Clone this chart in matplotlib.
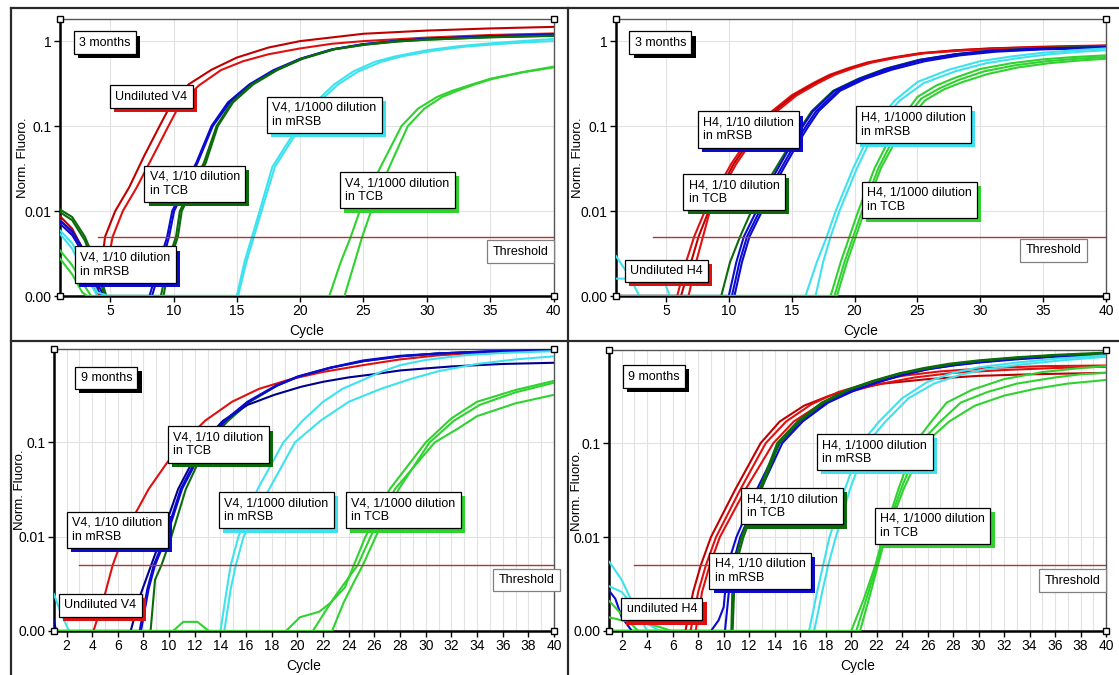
import matplotlib
matplotlib.use("Agg")
import matplotlib.pyplot as plt
import matplotlib.patheffects as pe
import numpy as np
from matplotlib.transforms import offset_copy
from matplotlib.lines import Line2D
from matplotlib.ticker import FixedLocator, FixedFormatter, NullLocator, MultipleLocator

plt.rcParams['font.family'] = ['Liberation Sans', 'DejaVu Sans']

W, H, DPI = 1119, 675, 100
FLOOR = 0.001        # the "0.00" level of the log axis
THRESHOLD = 0.005

RED = '#e01010'
DKRED = '#c00000'
BLUE = '#0a0ad0'
NAVY = '#00008c'
DKGREEN = '#0b6b0b'
CYAN = '#3ee2ee'
GREEN = '#2fd22f'

# ---------------------------------------------------------------- 3 months, V4
V4_3M_UNDILUTED = [
    [(1, .0088), (2, .0062), (3, .0032), (3.8, .0013), (4.0, 0), (4.6, .005), (5.4, .01), (6.5, .019),
     (7.7, .045), (8.9, .1), (9.8, .18), (11.2, .31), (13, .46), (15, .64), (17.5, .84), (20, 1.0),
     (25, 1.22), (30, 1.33), (35, 1.41), (40, 1.47)],
    [(1, .008), (2, .0055), (3, .0028), (3.9, .0011), (4.3, 0), (5.2, .005), (6.0, .01), (7.1, .019),
     (8.4, .045), (9.6, .1), (10.5, .18), (12, .3), (13.75, .456), (15.5, .58), (17.5, .7), (20, .82),
     (22.5, .93), (25, 1.0), (30, 1.1), (35, 1.18), (40, 1.23)],
]
V4_3M_MRSB_10 = [
    [(1, .0078), (2, .0058), (3, .0033), (4, .0014), (4.5, 0), (8.1, 0), (8.9, .0025), (9.5, .005),
     (9.9, .01), (11.8, .037), (13.0, .1), (14.3, .19), (16, .31), (17.9, .456), (20, .62), (22.5, .8),
     (25, .92), (27.5, 1.0), (30, 1.06), (35, 1.14), (40, 1.2)],
    [(1, .0072), (2, .0052), (3, .003), (4, .0012), (4.3, 0), (8.3, 0), (9.1, .0025), (9.65, .005),
     (10.05, .01), (11.9, .037), (13.1, .1), (14.45, .19), (16.15, .31), (18.05, .456), (20.1, .62),
     (22.6, .8), (25, .92), (27.5, 1.0), (30, 1.06), (35, 1.14), (40, 1.19)],
]
V4_3M_TCB_10 = [
    [(1, .0105), (2, .0085), (3, .005), (4, .0022), (4.7, 0), (9.0, 0), (9.7, .003), (10.2, .005),
     (10.5, .01), (12.4, .037), (13.4, .1), (14.6, .19), (16.2, .31), (18.1, .456), (20.1, .62),
     (22.6, .8), (25.1, .91), (27.6, .99), (30, 1.04), (35, 1.11), (40, 1.16)],
    [(1, .0098), (2, .0078), (3, .0045), (4, .0018), (4.6, 0), (9.2, 0), (9.85, .003), (10.35, .005),
     (10.65, .01), (12.55, .037), (13.5, .1), (14.7, .19), (16.3, .31), (18.2, .456), (20.2, .62),
     (22.7, .8), (25.2, .91), (27.7, .99), (30, 1.04), (35, 1.11), (40, 1.15)],
]
V4_3M_MRSB_1000 = [
    [(1, .006), (2, .0042), (3, .0022), (4.0, .0011), (4.9, 0), (15.0, 0), (15.6, .0025), (16.2, .005),
     (16.8, .01), (17.8, .033), (19.85, .1), (21.2, .19), (22.7, .31), (24.2, .44), (25.9, .57),
     (27.5, .66), (30, .78), (32.5, .87), (35, .94), (37.5, 1.0), (40, 1.06)],
    [(1, .0055), (2, .0036), (3, .0018), (4.0, .001), (4.7, 0), (15.1, 0), (15.75, .0025), (16.35, .005),
     (16.95, .01), (18.0, .033), (20.05, .1), (21.45, .19), (23.0, .31), (24.6, .44), (26.4, .57),
     (28.0, .66), (30.5, .77), (33, .86), (35.5, .92), (38, .97), (40, 1.0)],
]
V4_3M_TCB_1000 = [
    [(1, .0035), (2, .0023), (3, .0013), (3.5, 0), (22.3, 0), (23.2, .0025), (24.0, .005), (24.7, .01),
     (26.3, .032), (28.0, .1), (29.3, .16), (30.8, .22), (32, .26), (33.6, .31), (35, .36), (37.5, .43),
     (40, .5)],
    [(1, .0028), (2, .0018), (2.8, .0011), (3.2, 0), (23.5, 0), (24.3, .0025), (24.9, .005), (25.6, .01),
     (27.0, .032), (28.5, .1), (29.8, .16), (31.2, .22), (32.4, .26), (33.8, .31), (35.2, .36),
     (37.6, .43), (40, .49)],
]

# ---------------------------------------------------------------- 3 months, H4
H4_3M_UNDILUTED = [
    [(1, 0), (5.9, 0), (6.6, .0025), (7.25, .005), (8.1, .01), (10.2, .036), (11.8, .08), (13.4, .148),
     (15, .23), (16.7, .32), (18, .4), (19.5, .48), (21, .56), (23, .64), (25.2, .72), (28, .78),
     (30.8, .82), (35, .86), (40, .89)],
    [(1, 0), (6.2, 0), (7.0, .0025), (7.6, .005), (8.4, .01), (10.4, .036), (12.0, .08), (13.6, .148),
     (15.2, .23), (16.9, .32), (18.2, .4), (19.7, .48), (21.2, .56), (23.2, .64), (25.4, .72), (28.2, .78),
     (31, .82), (35, .85), (40, .88)],
    [(1, 0), (6.8, 0), (7.4, .0025), (7.95, .005), (8.5, .01), (10.6, .036), (12.2, .08), (13.8, .148),
     (15.4, .23), (17.1, .32), (18.4, .4), (19.9, .48), (21.4, .56), (23.4, .64), (25.6, .72), (28.4, .77),
     (31.2, .81), (35, .84), (40, .87)],
]
H4_3M_MRSB_10 = [
    [(1, 0), (10.0, 0), (10.6, .0025), (11.2, .005), (12.2, .01), (13.7, .028), (15.1, .065), (15.9, .1),
     (16.7, .15), (18.4, .26), (20.4, .36), (22.5, .47), (25.2, .6), (28, .7), (30.8, .77), (35, .82),
     (40, .85)],
    [(1, 0), (10.25, 0), (10.85, .0025), (11.45, .005), (12.45, .01), (13.95, .028), (15.35, .065),
     (16.15, .1), (16.95, .15), (18.65, .26), (20.65, .36), (22.75, .47), (25.4, .6), (28.2, .7),
     (31, .76), (35, .81), (40, .84)],
    [(1, 0), (10.45, 0), (11.05, .0025), (11.65, .005), (12.65, .01), (14.15, .028), (15.55, .065),
     (16.35, .1), (17.15, .15), (18.85, .26), (20.85, .36), (22.95, .46), (25.6, .58), (28.4, .68),
     (31.2, .75), (35, .8), (40, .83)],
]
H4_3M_TCB_10 = [
    [(1, 0), (9.4, 0), (10.1, .0025), (10.9, .005), (11.8, .01), (13.5, .028), (15.0, .065), (15.8, .1),
     (16.6, .15), (18.3, .26), (20.3, .36), (22.4, .47), (25.1, .6), (28, .7), (30.7, .77), (35, .83),
     (40, .86)],
]
H4_3M_MRSB_1000 = [
    [(1, .003), (2, .0018), (2.9, 0), (16.1, 0), (17.0, .0025), (17.8, .005), (18.5, .01), (19.9, .032),
     (21.5, .1), (23.2, .2), (25, .33), (27.5, .46), (30, .58), (32.5, .66), (35, .73), (37.5, .78),
     (40, .82)],
    [(1, .0016), (4.8, .0016), (5.3, 0), (16.9, 0), (17.5, .0025), (18.1, .005), (18.8, .01), (20.2, .032),
     (21.8, .1), (23.6, .2), (25.5, .32), (28, .44), (30.5, .55), (33, .63), (35.5, .7), (38, .75),
     (40, .78)],
]
H4_3M_TCB_1000 = [
    [(1, 0), (18.1, 0), (18.9, .0025), (19.6, .005), (20.3, .01), (21.6, .032), (23.3, .1), (25, .22),
     (26.5, .3), (28, .37), (30, .47), (32.5, .55), (35, .61), (37.5, .65), (40, .68)],
    [(1, 0), (18.4, 0), (19.2, .0025), (19.9, .005), (20.6, .01), (21.9, .032), (23.6, .1), (25.3, .21),
     (26.8, .28), (28.3, .35), (30.3, .44), (32.8, .52), (35.3, .58), (37.7, .62), (40, .65)],
    [(1, 0), (18.6, 0), (19.4, .0025), (20.1, .005), (20.8, .01), (22.1, .032), (23.9, .1), (25.6, .2),
     (27.1, .27), (28.6, .33), (30.6, .41), (33, .49), (35.5, .55), (37.8, .59), (40, .62)],
]

# ---------------------------------------------------------------- 9 months, V4
V4_9M_UNDILUTED = [
    [(1, 0), (4.1, 0), (4.9, .0022), (5.6, .005), (6.4, .01), (7.3, .017), (8.4, .032), (9.8, .06),
     (11.1, .1), (12.8, .17), (14.9, .27), (17, .37), (19.5, .47), (22, .56), (25.1, .66), (28, .76),
     (31, .84), (34, .89), (37, .93), (40, .95)],
]
V4_9M_MRSB_10 = [
    [(1, .0013), (1.2, 0), (7.0, 0), (7.8, .0025), (8.6, .005), (9.4, .01), (10.7, .032), (12.6, .1),
     (14.2, .17), (16.1, .25), (18.2, .32), (20.3, .39), (22, .44), (24, .49), (26, .53), (28, .58),
     (30, .61), (32, .64), (34, .66), (36, .68), (38, .69), (40, .70)],
    [(1, 0), (7.7, 0), (8.3, .0028), (8.8, .005), (9.7, .01), (10.9, .032), (12.8, .1), (14.3, .17),
     (16.1, .27), (18.3, .4), (20, .5), (22.5, .62), (25.1, .74), (28, .83), (31, .88), (35, .93),
     (40, .96)],
    [(1, 0), (7.8, 0), (8.4, .0028), (8.9, .005), (9.8, .01), (11.0, .032), (12.9, .1), (14.4, .17),
     (16.2, .27), (18.4, .4), (20.1, .5), (22.6, .62), (25.2, .73), (28.1, .82), (31.1, .88), (35, .92),
     (40, .95)],
]
V4_9M_TCB_10 = [
    [(1, 0), (8.55, 0), (8.9, .0035), (9.4, .005), (10.1, .0093), (11.3, .032), (13.0, .1), (14.6, .17),
     (16.3, .27), (18.4, .4), (20.1, .5), (22.6, .62), (25.2, .73), (28, .82), (31, .88), (35, .92),
     (40, .95)],
]
V4_9M_MRSB_1000 = [
    [(1, .0025), (1.6, .0015), (2.2, 0), (14.0, 0), (14.5, .0028), (14.8, .005), (15.4, .01),
     (16.9, .032), (18.9, .1), (20.4, .17), (22, .27), (23.5, .37), (25.1, .46), (26.5, .56), (28, .66),
     (30, .75), (33, .84), (36, .89), (40, .93)],
    [(1, 0), (14.3, 0), (14.8, .0028), (15.2, .005), (15.8, .01), (17.8, .032), (19.8, .1), (21.8, .17),
     (24, .27), (26.5, .37), (28.8, .47), (31, .57), (34, .68), (37, .76), (40, .82)],
]
V4_9M_TCB_1000 = [
    [(1, 0), (10.3, 0), (11.1, .00125), (12.2, .00125), (13.1, 0), (19.1, 0), (20.2, .0014),
     (21.7, .0016), (22.6, .002), (23.7, .0029), (24.4, .005), (25.3, .01), (27.2, .032), (30.0, .1),
     (32, .18), (34, .27), (37, .36), (40, .45)],
    [(1, 0), (21.2, 0), (22.8, .0022), (24.0, .0037), (24.7, .005), (25.7, .01), (27.6, .032),
     (30.7, .1), (32.5, .14), (34, .19), (37, .26), (40, .32)],
    [(1, 0), (22.7, 0), (23.6, .002), (24.5, .0035), (25.1, .005), (26.1, .01), (27.9, .032),
     (30.3, .1), (32.2, .17), (34.2, .25), (37, .34), (40, .43)],
]

# ---------------------------------------------------------------- 9 months, H4
H4_9M_UNDILUTED = [
    [(1, 0), (7.0, 0), (7.6, .0026), (8.2, .005), (9.0, .01), (10.9, .032), (12.9, .1), (14.4, .17),
     (16.3, .25), (18.3, .32), (20.5, .38), (22.5, .43), (26, .48), (30, .52), (34, .54), (40, .56)],
    [(1, 0), (7.4, 0), (8.0, .0026), (8.6, .005), (9.4, .01), (11.3, .032), (13.3, .1), (14.9, .17),
     (16.9, .26), (19, .35), (21.5, .44), (24, .52), (27, .58), (30.8, .63), (35, .66), (40, .67)],
    [(1, 0), (7.8, 0), (8.3, .0026), (8.9, .005), (9.7, .01), (11.7, .032), (13.9, .1), (15.5, .17),
     (17.6, .26), (19.5, .34), (22, .42), (25, .5), (28, .56), (32, .6), (36, .63), (40, .65)],
]
H4_9M_MRSB_10 = [
    [(1, .0027), (1.5, .0022), (2, .0014), (2.8, 0), (9.0, 0), (9.6, .0013), (10.0, .0018), (10.3, .005),
     (11.0, .01), (12.6, .032), (14.4, .1), (16, .17), (18, .27), (20, .36), (22, .44), (24, .53),
     (26, .61), (28, .67), (30, .72), (33, .78), (36, .83), (40, .87)],
    [(1, 0), (10.1, 0), (10.5, .0035), (10.7, .005), (11.3, .01), (12.9, .032), (14.6, .1), (16.2, .17),
     (18.2, .27), (20.2, .36), (22.2, .45), (24.2, .54), (26.2, .62), (28.2, .68), (30.2, .73), (33, .79),
     (36, .84), (40, .88)],
]
H4_9M_TCB_10 = [
    [(1, 0), (10.6, 0), (10.7, .0035), (10.8, .005), (11.4, .01), (12.8, .032), (14.2, .1), (15.8, .17),
     (17.7, .27), (19.7, .37), (21.7, .46), (23.7, .55), (25.7, .63), (27.7, .7), (30, .76), (33, .82),
     (36, .87), (40, .92)],
    [(1, 0), (10.7, 0), (10.85, .0035), (10.95, .005), (11.55, .01), (12.95, .032), (14.35, .1),
     (15.95, .17), (17.85, .27), (19.85, .37), (21.85, .46), (23.85, .55), (25.85, .62), (27.85, .69),
     (30.1, .75), (33, .81), (36, .86), (40, .9)],
]
H4_9M_MRSB_1000 = [
    [(1, .0055), (2, .0035), (3, .0018), (4, 0), (16.7, 0), (17.3, .0025), (17.8, .005), (18.3, .01),
     (19.5, .032), (20.8, .1), (22.2, .17), (24, .3), (26, .45), (28, .56), (30, .64), (33, .72),
     (36, .79), (40, .86)],
    [(1, .003), (2, .0026), (3, .0018), (4, .0012), (5, 0), (17.1, 0), (17.7, .0025), (18.2, .005),
     (18.8, .01), (19.9, .032), (21.25, .1), (22.7, .17), (24.5, .3), (26.5, .43), (28.5, .53),
     (30.5, .61), (33.5, .69), (36.5, .76), (40, .83)],
]
H4_9M_TCB_1000 = [
    [(1, .0021), (2, .0015), (3.3, 0), (20.0, 0), (21.0, .0022), (21.9, .005), (22.5, .01), (23.7, .032),
     (25.0, .1), (26.3, .17), (27.5, .27), (29.5, .37), (32, .48), (35, .57), (38, .63), (40, .66)],
    [(1, .0014), (2, .0013), (4, .0012), (5, .0011), (5.9, 0), (20.4, 0), (21.2, .0022), (22.0, .005),
     (22.6, .01), (23.9, .032), (25.4, .1), (27, .17), (28.6, .27), (30.7, .35), (33, .43), (36, .5),
     (38, .54), (40, .56)],
    [(1, 0), (20.7, 0), (21.4, .0022), (22.1, .005), (22.7, .01), (24.1, .032), (25.8, .1), (27.7, .17),
     (29.7, .25), (32, .32), (34.5, .38), (37, .43), (40, .47)],
]

PERIODS = ['3 months', '3 months', '9 months', '9 months']


def add_box(fig, ax, x, y, text, shadow, edge='black', fs=9):
    """White label box whose top-left corner sits at (x, y), with a coloured drop shadow."""
    pad_px = 5
    t = ax.text(x, y, text, fontsize=fs, ha='left', va='top', color='black', zorder=7,
                transform=offset_copy(ax.transData, fig=fig, x=pad_px, y=-pad_px, units='dots'),
                bbox=dict(boxstyle='square,pad=0.42', fc='white', ec=edge, lw=0.9))
    if shadow is not None:
        t.get_bbox_patch().set_path_effects([
            pe.SimplePatchShadow(offset=(3, -3), shadow_rgbFace=shadow, alpha=1.0),
            pe.Normal()])


panels = [
    dict(rect=(59.5, 19, 553.5, 296), ytop=1.82, xstep=5, minor_grid=False, thr_start=4,
         period=(2.18, 1.29), ylab_dx=31,
         groups=[(V4_3M_UNDILUTED, [DKRED, RED]), (V4_3M_MRSB_10, [BLUE, BLUE]),
                 (V4_3M_TCB_10, [DKGREEN, DKGREEN]), (V4_3M_MRSB_1000, [CYAN, CYAN]),
                 (V4_3M_TCB_1000, [GREEN, GREEN])],
         labels=[("Undiluted V4", 5.0, 0.30, RED),
                 ("V4, 1/1000 dilution\nin mRSB", 17.4, 0.22, CYAN),
                 ("V4, 1/10 dilution\nin TCB", 7.73, 0.034, DKGREEN),
                 ("V4, 1/1000 dilution\nin TCB", 23.16, 0.0285, GREEN),
                 ("V4, 1/10 dilution\nin mRSB", 2.24, 0.0038, BLUE)],
         thr_box=(34.8, 0.00448)),
    dict(rect=(615.6, 19, 1106, 296), ytop=1.82, xstep=5, minor_grid=False, thr_start=4,
         period=(2.12, 1.29), ylab_dx=32,
         groups=[(H4_3M_UNDILUTED, [RED, DKRED, RED]), (H4_3M_TCB_10, [DKGREEN]),
                 (H4_3M_MRSB_10, [BLUE, BLUE, BLUE]), (H4_3M_MRSB_1000, [CYAN, CYAN]),
                 (H4_3M_TCB_1000, [GREEN, GREEN, GREEN])],
         labels=[("H4, 1/10 dilution\nin mRSB", 7.54, 0.148, BLUE),
                 ("H4, 1/10 dilution\nin TCB", 6.41, 0.0272, DKGREEN),
                 ("H4, 1/1000 dilution\nin mRSB", 20.1, 0.169, CYAN),
                 ("H4, 1/1000 dilution\nin TCB", 20.6, 0.0221, GREEN),
                 ("Undiluted H4", 1.75, 0.00265, RED)],
         thr_box=(33.2, 0.00464)),
    dict(rect=(53.7, 349, 554, 631), ytop=0.98, xstep=2, minor_grid=True, thr_start=3,
         period=(2.7, 0.634), ylab_dx=28,
         groups=[(V4_9M_UNDILUTED, [RED]), (V4_9M_TCB_10, [DKGREEN]),
                 (V4_9M_MRSB_10, [NAVY, BLUE, BLUE]), (V4_9M_MRSB_1000, [CYAN, CYAN]),
                 (V4_9M_TCB_1000, [GREEN, GREEN, GREEN])],
         labels=[("V4, 1/10 dilution\nin TCB", 9.93, 0.147, DKGREEN),
                 ("V4, 1/1000 dilution\nin mRSB", 13.9, 0.0295, CYAN),
                 ("V4, 1/1000 dilution\nin TCB", 23.8, 0.0295, GREEN),
                 ("V4, 1/10 dilution\nin mRSB", 2.06, 0.0184, BLUE),
                 ("Undiluted V4", 1.43, 0.00245, RED)],
         thr_box=(35.3, 0.00454)),
    dict(rect=(609, 350, 1106, 631), ytop=0.98, xstep=2, minor_grid=True, thr_start=3,
         period=(2.08, 0.67), ylab_dx=26,
         groups=[(H4_9M_UNDILUTED, [DKRED, RED, RED]), (H4_9M_MRSB_10, [BLUE, BLUE]),
                 (H4_9M_TCB_10, [DKGREEN, DKGREEN]), (H4_9M_MRSB_1000, [CYAN, CYAN]),
                 (H4_9M_TCB_1000, [GREEN, GREEN, GREEN])],
         labels=[("H4, 1/1000 dilution\nin mRSB", 17.36, 0.125, CYAN),
                 ("H4, 1/10 dilution\nin TCB", 11.4, 0.033, DKGREEN),
                 ("H4, 1/1000 dilution\nin TCB", 21.9, 0.0205, GREEN),
                 ("H4, 1/10 dilution\nin mRSB", 8.9, 0.00678, BLUE),
                 ("undiluted H4", 2.0, 0.00224, RED)],
         thr_box=(34.8, 0.00449)),
]

fig = plt.figure(figsize=(W / DPI, H / DPI), dpi=DPI, facecolor='white')

# outer panel frame and the seams between the four panels
frame_kw = dict(transform=fig.transFigure, color='#2a2a2a', lw=1.6)
for (x0, y0, x1, y1) in [(11, 8, 11, 675), (11, 8, 1119, 8), (568, 8, 568, 675), (11, 341, 1119, 341)]:
    fig.add_artist(Line2D([x0 / W, x1 / W], [1 - y0 / H, 1 - y1 / H], **frame_kw))

for p, period in zip(panels, PERIODS):
    l, t, r, b = p['rect']
    ax = fig.add_axes([l / W, 1 - b / H, (r - l) / W, (b - t) / H])
    ax.set_facecolor('white')
    ax.set_yscale('log')
    ax.set_xlim(1, 40)
    ax.set_ylim(FLOOR, p['ytop'])

    yt = [0.001, 0.01, 0.1, 1]
    ax.yaxis.set_major_locator(FixedLocator(yt))
    ax.yaxis.set_major_formatter(FixedFormatter(['0.00', '0.01', '0.1', '1']))
    ax.yaxis.set_minor_locator(NullLocator())
    ax.xaxis.set_major_locator(MultipleLocator(p['xstep']))
    if p['minor_grid']:
        ax.xaxis.set_minor_locator(MultipleLocator(1))
        ax.grid(True, axis='x', which='minor', color='#e2e2e2', lw=0.8)
    ax.grid(True, which='major', color='#e2e2e2', lw=0.8)
    ax.set_axisbelow(True)
    ax.tick_params(which='major', direction='out', length=4, width=1, color='black',
                   labelsize=10, pad=2)
    ax.tick_params(which='minor', length=0)

    for side in ('left', 'bottom'):
        ax.spines[side].set_color('black')
        ax.spines[side].set_linewidth(1.8)
    for side in ('top', 'right'):
        ax.spines[side].set_color('#555555')
        ax.spines[side].set_linewidth(1.0)

    ax.set_ylabel('Norm. Fluoro.', fontsize=9.5)
    ax.yaxis.set_label_coords(-p['ylab_dx'] / (r - l), 0.5)
    ax.set_xlabel('Cycle', fontsize=10, labelpad=4)

    # amplification curves (zero readings sit on the "0.00" floor)
    for curves, colors in p['groups']:
        for curve, col in zip(curves, colors):
            arr = np.array(curve, dtype=float)
            ax.plot(arr[:, 0], np.maximum(arr[:, 1], FLOOR), color=col, lw=1.5, zorder=3,
                    solid_joinstyle='round', solid_capstyle='round')

    # threshold line
    ax.plot([p['thr_start'], 40], [THRESHOLD, THRESHOLD], color='#b03636', lw=1.0, zorder=4)

    # corner handles
    ax.plot([1, 40, 1, 40], [FLOOR, FLOOR, p['ytop'], p['ytop']], ls='none', marker='s', ms=5,
            mfc='white', mec='black', mew=1.0, clip_on=False, zorder=8)

    for text, x, y, col in p['labels']:
        add_box(fig, ax, x, y, text, col)
    add_box(fig, ax, p['period'][0], p['period'][1], period, 'black')
    add_box(fig, ax, p['thr_box'][0], p['thr_box'][1], 'Threshold', None, edge='#808080')

fig.savefig('out.png', dpi=DPI, facecolor='white')
